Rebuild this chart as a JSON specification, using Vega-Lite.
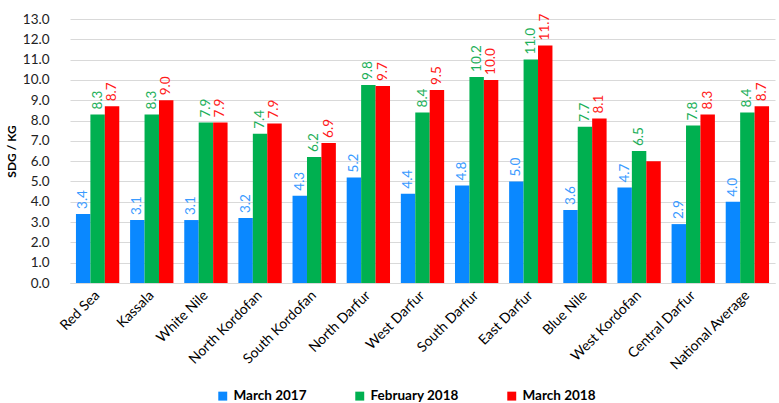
{
  "$schema": "https://vega.github.io/schema/vega-lite/v6.json",
  "width": 705,
  "height": 264,
  "autosize": {"type": "none"},
  "padding": {"left": 70, "top": 19, "right": 4, "bottom": 120},
  "config": {"font": "Lato", "view": {"stroke": null}},
  "data": {
    "values": [
      {"region": "Red Sea", "series": "March 2017", "value": 3.4, "label": "3.4"},
      {"region": "Red Sea", "series": "February 2018", "value": 8.3, "label": "8.3"},
      {"region": "Red Sea", "series": "March 2018", "value": 8.7, "label": "8.7"},
      {"region": "Kassala", "series": "March 2017", "value": 3.1, "label": "3.1"},
      {"region": "Kassala", "series": "February 2018", "value": 8.3, "label": "8.3"},
      {"region": "Kassala", "series": "March 2018", "value": 9.0, "label": "9.0"},
      {"region": "White Nile", "series": "March 2017", "value": 3.1, "label": "3.1"},
      {"region": "White Nile", "series": "February 2018", "value": 7.9, "label": "7.9"},
      {"region": "White Nile", "series": "March 2018", "value": 7.9, "label": "7.9"},
      {"region": "North Kordofan", "series": "March 2017", "value": 3.2, "label": "3.2"},
      {"region": "North Kordofan", "series": "February 2018", "value": 7.35, "label": "7.4"},
      {"region": "North Kordofan", "series": "March 2018", "value": 7.85, "label": "7.9"},
      {"region": "South Kordofan", "series": "March 2017", "value": 4.3, "label": "4.3"},
      {"region": "South Kordofan", "series": "February 2018", "value": 6.2, "label": "6.2"},
      {"region": "South Kordofan", "series": "March 2018", "value": 6.9, "label": "6.9"},
      {"region": "North Darfur", "series": "March 2017", "value": 5.2, "label": "5.2"},
      {"region": "North Darfur", "series": "February 2018", "value": 9.75, "label": "9.8"},
      {"region": "North Darfur", "series": "March 2018", "value": 9.7, "label": "9.7"},
      {"region": "West Darfur", "series": "March 2017", "value": 4.4, "label": "4.4"},
      {"region": "West Darfur", "series": "February 2018", "value": 8.4, "label": "8.4"},
      {"region": "West Darfur", "series": "March 2018", "value": 9.5, "label": "9.5"},
      {"region": "South Darfur", "series": "March 2017", "value": 4.8, "label": "4.8"},
      {"region": "South Darfur", "series": "February 2018", "value": 10.15, "label": "10.2"},
      {"region": "South Darfur", "series": "March 2018", "value": 10.0, "label": "10.0"},
      {"region": "East Darfur", "series": "March 2017", "value": 5.0, "label": "5.0"},
      {"region": "East Darfur", "series": "February 2018", "value": 11.0, "label": "11.0"},
      {"region": "East Darfur", "series": "March 2018", "value": 11.7, "label": "11.7"},
      {"region": "Blue Nile", "series": "March 2017", "value": 3.6, "label": "3.6"},
      {"region": "Blue Nile", "series": "February 2018", "value": 7.7, "label": "7.7"},
      {"region": "Blue Nile", "series": "March 2018", "value": 8.1, "label": "8.1"},
      {"region": "West Kordofan", "series": "March 2017", "value": 4.7, "label": "4.7"},
      {"region": "West Kordofan", "series": "February 2018", "value": 6.5, "label": "6.5"},
      {"region": "West Kordofan", "series": "March 2018", "value": 6.0, "label": ""},
      {"region": "Central Darfur", "series": "March 2017", "value": 2.9, "label": "2.9"},
      {"region": "Central Darfur", "series": "February 2018", "value": 7.75, "label": "7.8"},
      {"region": "Central Darfur", "series": "March 2018", "value": 8.3, "label": "8.3"},
      {"region": "National Average", "series": "March 2017", "value": 4.0, "label": "4.0"},
      {"region": "National Average", "series": "February 2018", "value": 8.4, "label": "8.4"},
      {"region": "National Average", "series": "March 2018", "value": 8.7, "label": "8.7"}
    ]
  },
  "encoding": {
    "x": {
      "field": "region",
      "type": "nominal",
      "sort": null,
      "scale": {"paddingInner": 0.2, "paddingOuter": 0.11},
      "axis": {
        "title": null,
        "labelAngle": -45,
        "labelAlign": "right",
        "labelBaseline": "middle",
        "labelFontSize": 14,
        "labelColor": "#000000",
        "labelPadding": 10,
        "ticks": false,
        "domainColor": "#d9d9d9"
      }
    },
    "xOffset": {
      "field": "series",
      "type": "nominal",
      "sort": ["March 2017", "February 2018", "March 2018"],
      "scale": {"domain": ["March 2017", "February 2018", "March 2018"]}
    },
    "y": {
      "field": "value",
      "type": "quantitative",
      "scale": {"domain": [0, 13], "nice": false},
      "axis": {
        "title": "SDG / KG",
        "titleFontSize": 12,
        "titleFontWeight": "bold",
        "titleColor": "#000000",
        "titlePadding": 4,
        "values": [0,1,2,3,4,5,6,7,8,9,10,11,12,13],
        "format": ".1f",
        "labelFontSize": 13.5,
        "labelColor": "#222222",
        "labelPadding": 21,
        "ticks": false,
        "domain": false,
        "gridColor": "#d9d9d9",
        "gridWidth": 1.2
      }
    }
  },
  "layer": [
    {
      "mark": {"type": "bar"},
      "encoding": {
        "color": {
          "field": "series",
          "type": "nominal",
          "scale": {
            "domain": ["March 2017", "February 2018", "March 2018"],
            "range": ["#0A88FF", "#00B050", "#FF0000"]
          },
          "legend": {
            "title": null,
            "orient": "none",
            "direction": "horizontal",
            "legendX": 146,
            "legendY": 370,
            "symbolType": "square",
            "symbolSize": 80,
            "symbolStrokeWidth": 0,
            "labelFontSize": 13.5,
            "labelFontWeight": "bold",
            "labelColor": "#000000",
            "columnPadding": 46
          }
        }
      }
    },
    {
      "mark": {"type": "text", "angle": -90, "align": "left", "baseline": "middle", "dx": 5, "fontSize": 13.5},
      "encoding": {
        "text": {"field": "label"},
        "color": {
          "field": "series",
          "type": "nominal",
          "scale": {
            "domain": ["March 2017", "February 2018", "March 2018"],
            "range": ["#3A9BFF", "#1DB05A", "#FF1A1A"]
          },
          "legend": null
        }
      }
    }
  ],
  "resolve": {"scale": {"color": "independent"}}
}
